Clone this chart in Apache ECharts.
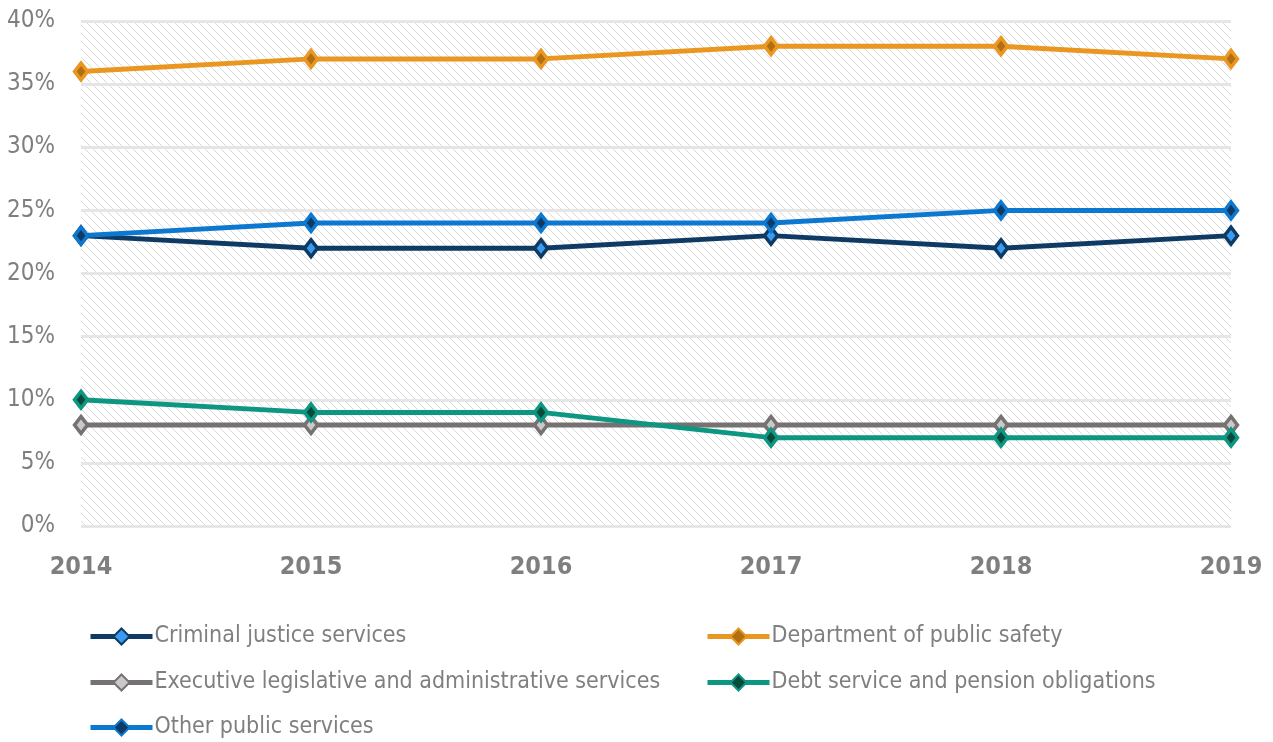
<!DOCTYPE html>
<html>
<head>
<meta charset="utf-8">
<script src="https://cdn.jsdelivr.net/npm/echarts@6/dist/echarts.min.js"></script>
<style>
  html, body { margin: 0; padding: 0; background: #fff; }
  #chart { width: 1273px; height: 742px; }
</style>
</head>
<body>
<div id="chart"></div>
<script>
// Share of general fund spending by service area (%)
const years = ['2014', '2015', '2016', '2017', '2018', '2019'];
const criminalJustice = [23, 22, 22, 23, 22, 23];
const publicSafety = [36, 37, 37, 38, 38, 37];
const executiveAdmin = [8, 8, 8, 8, 8, 8];
const debtPension = [10, 9, 9, 7, 7, 7];
const otherPublic = [23, 24, 24, 24, 25, 25];

const FONT = '"Liberation Sans Narrow", "DejaVu Sans Condensed", "Liberation Sans", sans-serif';
const TEXT_GRAY = '#7f7f7f';

// diagonal hatch used behind the plot
function hatchPattern() {
  const c = document.createElement('canvas');
  const s = 8;
  c.width = s; c.height = s;
  const g = c.getContext('2d');
  g.fillStyle = '#ffffff';
  g.fillRect(0, 0, s, s);
  g.strokeStyle = '#dadada';
  g.lineWidth = 1;
  g.beginPath();
  g.moveTo(-1, -1); g.lineTo(s + 1, s + 1);
  g.moveTo(-1, s - 1); g.lineTo(1, s + 1);
  g.moveTo(s - 1, -1); g.lineTo(s + 1, 1);
  g.stroke();
  return { image: c, repeat: 'repeat' };
}

const series = [
  { name: 'Criminal justice services', data: criminalJustice, line: '#0f3a64', inner: '#3a9bf0' },
  { name: 'Department of public safety', data: publicSafety, line: '#e99720', inner: '#b06f12' },
  { name: 'Executive legislative and administrative services', data: executiveAdmin, line: '#767272', inner: '#c9c9c9' },
  { name: 'Debt service and pension obligations', data: debtPension, line: '#0d9682', inner: '#0a4a3a' },
  { name: 'Other public services', data: otherPublic, line: '#0c78cf', inner: '#0f3a64' }
];

// legend placement: two columns, three rows
const legendSlots = [
  { left: 88, top: 625 },
  { left: 705, top: 625 },
  { left: 88, top: 671 },
  { left: 705, top: 671 },
  { left: 88, top: 716 }
];

const chart = echarts.init(document.getElementById('chart'), null, { renderer: 'canvas' });

chart.setOption({
  animation: false,
  grid: {
    left: 81, right: 42, top: 21, bottom: 216,
    show: true, borderWidth: 0,
    backgroundColor: hatchPattern()
  },
  xAxis: {
    type: 'category',
    data: years,
    boundaryGap: false,
    axisLine: { show: false },
    axisTick: { show: false },
    axisLabel: {
      color: TEXT_GRAY, fontSize: 25, fontWeight: 'bold', fontFamily: FONT, margin: 29
    }
  },
  yAxis: {
    type: 'value',
    min: 0, max: 40, interval: 5,
    axisLine: { show: false },
    axisTick: { show: false },
    splitLine: { lineStyle: { color: '#e6e6e6', width: 3 } },
    axisLabel: {
      color: TEXT_GRAY, fontSize: 24, fontFamily: FONT, margin: 26,
      formatter: v => v + '%'
    }
  },
  legend: series.map((s, i) => ({
    orient: 'horizontal',
    left: legendSlots[i].left,
    top: legendSlots[i].top,
    padding: 0,
    itemWidth: 62, itemHeight: 20, itemGap: 4,
    lineStyle: { width: 5 },
    textStyle: { color: TEXT_GRAY, fontSize: 23, fontFamily: FONT, padding: [0, 0, 0, -3] },
    data: [s.name]
  })),
  series: series.map(s => ({
    name: s.name,
    type: 'line',
    data: s.data,
    symbol: 'diamond',
    symbolSize: [13, 17],
    lineStyle: { color: s.line, width: 5 },
    itemStyle: { color: s.inner, borderColor: s.line, borderWidth: 3.5 },
    emphasis: { disabled: true }
  }))
});
</script>
</body>
</html>
